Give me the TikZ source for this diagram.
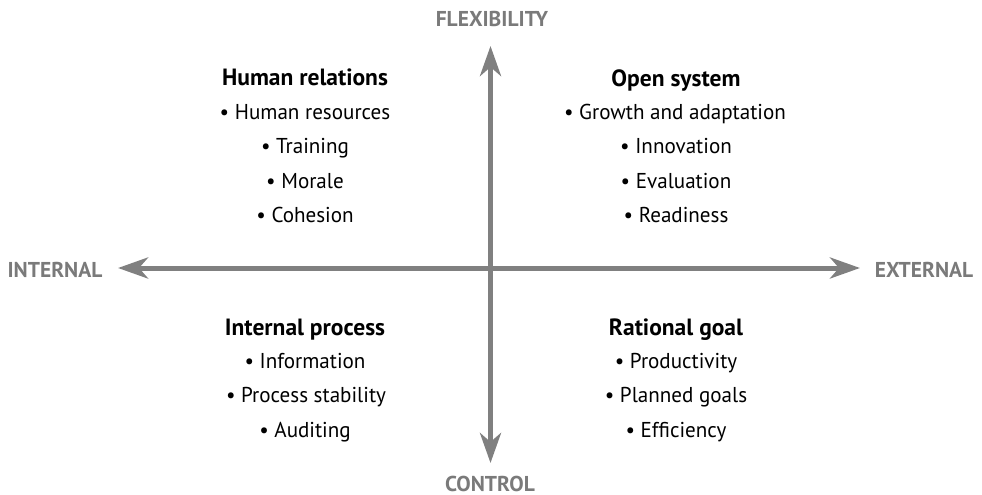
\documentclass[tikz,border=0pt]{standalone}
\usepackage{fontspec}
\setmainfont{PT Sans}
\usetikzlibrary{arrows.meta}
\definecolor{axisgray}{HTML}{808080}
\definecolor{labelgray}{HTML}{7A7A7A}
\tikzset{
  axisline/.style={draw=axisgray, line width=5pt, {Stealth[length=30pt,width=21pt,inset=9pt]}-{Stealth[length=30pt,width=21pt,inset=9pt]}},
  axislabel/.style={text=labelgray, font=\fontsize{21.5}{24}\selectfont\bfseries, inner sep=0pt, anchor=base},
  qtitle/.style={anchor=base, inner sep=0pt, font=\fontsize{23.5}{26}\selectfont\bfseries},
  qitem/.style={anchor=base, inner sep=0pt, font=\fontsize{21.5}{24}\selectfont, xscale=0.98, transform shape},
}
\begin{document}
\begin{tikzpicture}[x=1pt,y=-1pt]
\useasboundingbox (0,0) rectangle (982,495);
% axis labels
\node[axislabel] (flex) at (492,27) {FLEXIBILITY};
\node[axislabel] (ctrl) at (490,491) {CONTROL};
\node[axislabel] (int) at (55,277) {INTERNAL};
\node[axislabel] (ext) at (924,277) {EXTERNAL};
% axes
\coordinate (top) at (490.5,46);
\coordinate (bot) at (490.5,463);
\coordinate (left) at (118,268);
\coordinate (right) at (860,268);
\draw[axisline] (left) -- (right);
\draw[axisline] (bot) -- (top);
% Human relations
\node[qtitle] (hr) at (305,85) {Human relations};
\node[qitem] (hr1) at (305,119) {• Human resources};
\node[qitem] (hr2) at (305,153) {• Training};
\node[qitem] (hr3) at (305,188) {• Morale};
\node[qitem] (hr4) at (305,222) {• Cohesion};
% Open system
\node[qtitle] (os) at (676,86) {Open system};
\node[qitem] (os1) at (675,119) {• Growth and adaptation};
\node[qitem] (os2) at (676,153) {• Innovation};
\node[qitem] (os3) at (676,188) {• Evaluation};
\node[qitem] (os4) at (676,222) {• Readiness};
% Internal process
\node[qtitle] (ip) at (305,335) {Internal process};
\node[qitem] (ip1) at (305,368) {• Information};
\node[qitem] (ip2) at (306,402) {• Process stability};
\node[qitem] (ip3) at (305,437) {• Auditing};
% Rational goal
\node[qtitle] (rg) at (676,335) {Rational goal};
\node[qitem] (rg1) at (676,368) {• Productivity};
\node[qitem] (rg2) at (676,402) {• Planned goals};
\node[qitem] (rg3) at (676,437) {• Efficiency};
\end{tikzpicture}
\end{document}
